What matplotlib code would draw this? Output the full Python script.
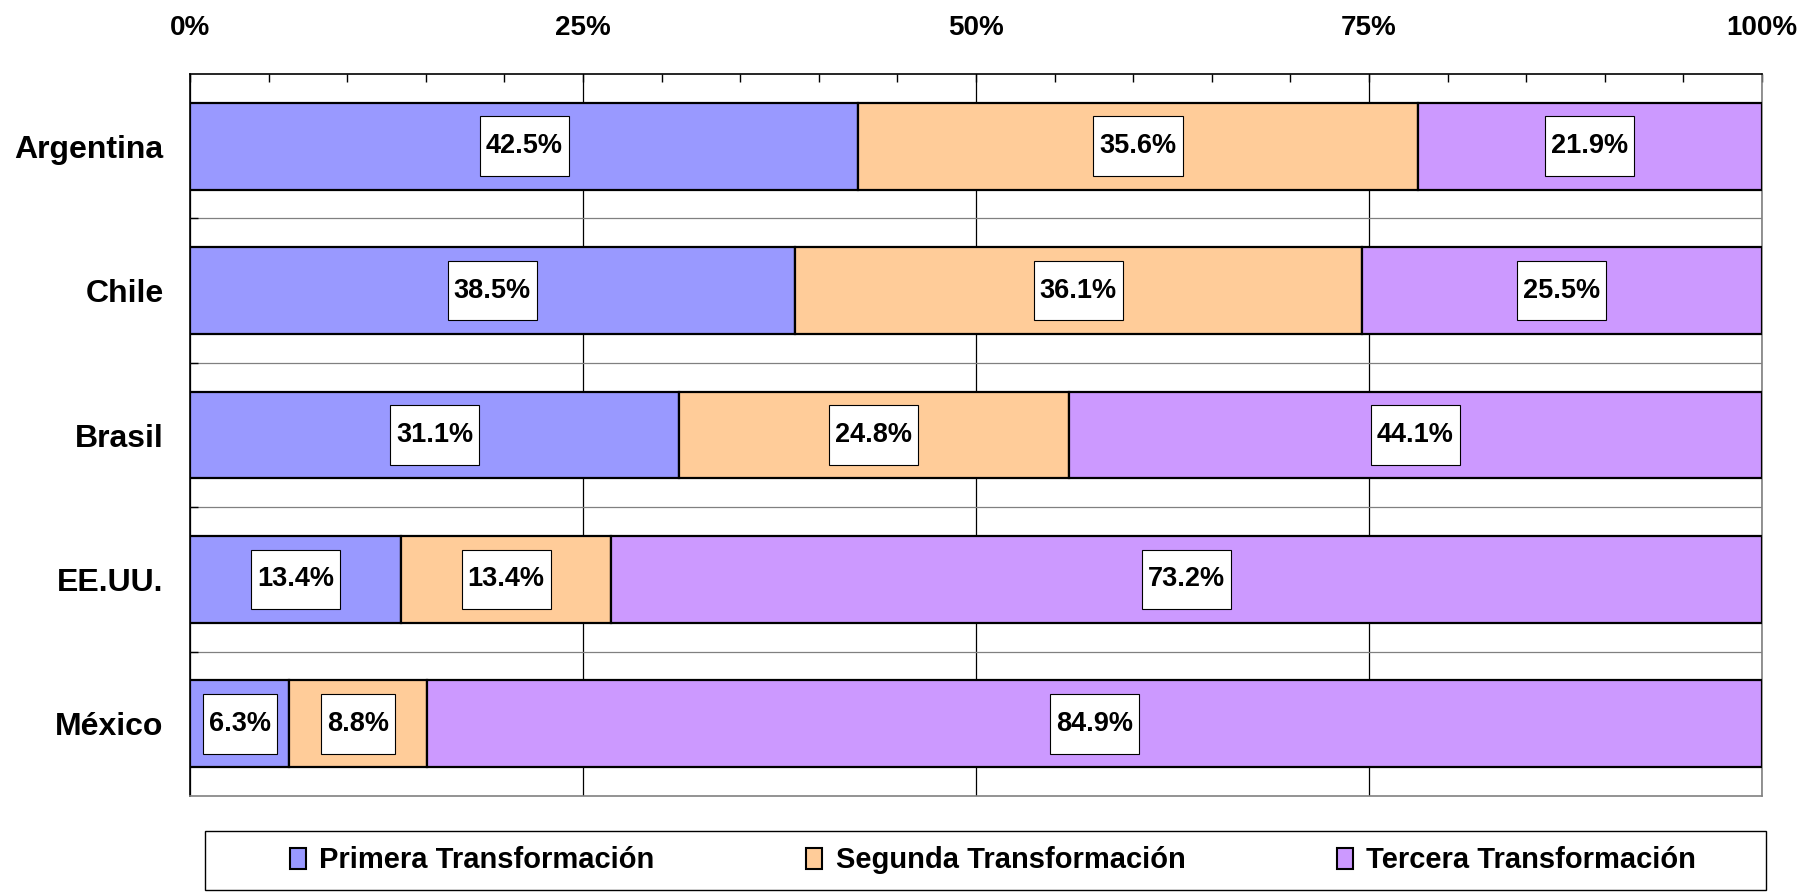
import matplotlib
matplotlib.use("Agg")
import matplotlib.pyplot as plt
import numpy as np
from matplotlib.path import Path
from matplotlib.patches import Rectangle, Patch

plt.rcParams['font.family'] = ['Liberation Sans', 'DejaVu Sans']
plt.rcParams['font.weight'] = 'bold'

# data
countries = ["Argentina", "Chile", "Brasil", "EE.UU.", "México"]
series = ["Primera Transformación", "Segunda Transformación", "Tercera Transformación"]
primera = [42.5, 38.5, 31.1, 13.4, 6.3]
segunda = [35.6, 36.1, 24.8, 13.4, 8.8]
tercera = [21.9, 25.5, 44.1, 73.2, 84.9]
colors = ["#9999FF", "#FFCC99", "#CC99FF"]
xticks = [0, 25, 50, 75, 100]


def label_box(x0, y0, width, height, mutation_size):
    # white label box, wider vertical padding than horizontal
    px = 0.22 * mutation_size
    py = 0.62 * mutation_size
    xa, xb = x0 - px, x0 + width + px
    ya, yb = y0 - py, y0 + height + py
    return Path([(xa, ya), (xb, ya), (xb, yb), (xa, yb), (xa, ya)], closed=True)


fig = plt.figure(figsize=(18.19, 8.94), dpi=100)
ax = fig.add_axes([0.1045, 0.1096, 0.8642, 0.8076])

vals = np.array([primera, segunda, tercera])
totals = vals.sum(axis=0)
shares = vals / totals * 100  # 100% stacked, like the original
y = np.arange(len(countries))

left = np.zeros(len(countries))
for i in range(len(series)):
    ax.barh(y, shares[i], left=left, height=0.6, color=colors[i],
            edgecolor="black", linewidth=1.6, zorder=3, label=series[i])
    for j in range(len(countries)):
        ax.text(left[j] + shares[i][j] / 2, y[j], "%.1f%%" % vals[i][j],
                ha="center", va="center", fontsize=19.5, fontweight="bold",
                zorder=5,
                bbox=dict(boxstyle=label_box, fc="white", ec="black", lw=0.8))
    left += shares[i]

ax.set_xlim(0, 100)
ax.set_ylim(len(countries) - 0.5, -0.5)

ax.xaxis.tick_top()
ax.set_xticks(xticks)
ax.set_xticklabels(["%d%%" % t for t in xticks])
ax.set_xticks(np.arange(0, 101, 5), minor=True)
ax.tick_params(axis="x", which="both", direction="in", length=6, width=1,
               labelsize=20, pad=24)

ax.set_yticks(y)
ax.set_yticklabels(countries)
ax.set_yticks(np.arange(0.5, len(countries) - 0.5, 1), minor=True)
ax.tick_params(axis="y", which="both", direction="in", length=6, width=1,
               labelsize=23, pad=19)

ax.grid(axis="x", which="major", color="black", linewidth=0.9, zorder=0)
ax.grid(axis="y", which="minor", color="#808080", linewidth=0.9, zorder=0)
ax.set_axisbelow(True)

for s in ["top", "left"]:
    ax.spines[s].set_color("black")
    ax.spines[s].set_linewidth(1.2)
for s in ["right", "bottom"]:
    ax.spines[s].set_color("#808080")
    ax.spines[s].set_linewidth(1.2)

# legend box
fig.patches.append(Rectangle((0.1127, 0.0045), 0.8583, 0.066, transform=fig.transFigure,
                             fill=False, edgecolor="black", linewidth=1.0))
handles = [Patch(facecolor=c, edgecolor="black", linewidth=1.5) for c in colors]
fig.legend(handles, series, loc="center", bbox_to_anchor=(0.546, 0.0375),
           ncol=3, frameon=False, handlelength=0.55, handleheight=0.75,
           handletextpad=0.45, columnspacing=5.2,
           prop={'weight': 'bold', 'size': 21})

fig.savefig("out.png", dpi=100)
